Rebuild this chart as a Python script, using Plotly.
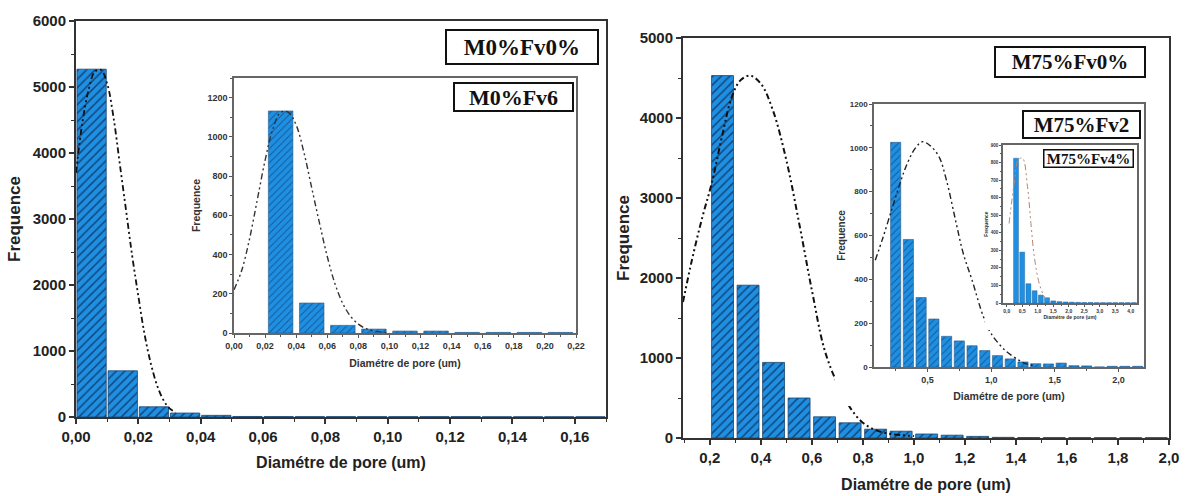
import plotly.graph_objects as go

W, H = 1189, 496

# ---------------- data ----------------
# Left main panel: M0%Fv0%
left_bin_centers = [0.005, 0.015, 0.025, 0.035, 0.045, 0.055, 0.065, 0.075, 0.085, 0.095,
                    0.105, 0.115, 0.125, 0.135, 0.145, 0.155, 0.165]
left_counts = [5270, 700, 155, 60, 25, 8, 6, 5, 5, 5, 5, 5, 5, 3, 3, 3, 3]
left_fit_x = [0, 0.002, 0.004, 0.006, 0.008, 0.010, 0.012, 0.014, 0.016, 0.018, 0.020,
              0.022, 0.024, 0.026, 0.028, 0.030, 0.032]
left_fit_y = [3700, 4450, 4950, 5230, 5260, 5050, 4550, 3850, 3150, 2450, 1830,
              1250, 810, 480, 260, 130, 70]

# Left inset: M0%Fv6
in1_bin_centers = [0.03, 0.05, 0.07, 0.09, 0.11, 0.13, 0.15, 0.17, 0.19, 0.21]
in1_counts = [1132, 153, 39, 20, 10, 10, 3, 3, 3, 3]
in1_fit_x = [0, 0.005, 0.010, 0.015, 0.020, 0.025, 0.030, 0.035, 0.040, 0.045, 0.050,
             0.055, 0.060, 0.065, 0.070, 0.075, 0.080, 0.085, 0.090, 0.095, 0.100]
in1_fit_y = [220, 320, 480, 680, 880, 1040, 1125, 1125, 1060, 920, 740,
             560, 390, 250, 150, 85, 45, 22, 10, 5, 2]

# Right main panel: M75%Fv0%
right_bin_centers = [0.25, 0.35, 0.45, 0.55, 0.65, 0.75, 0.85, 0.95, 1.05, 1.15,
                     1.25, 1.35, 1.45, 1.55, 1.65, 1.75, 1.85, 1.95]
right_counts = [4530, 1910, 945, 500, 265, 190, 110, 85, 50, 35, 20, 8, 6, 5, 5, 4, 4, 4]
right_fit_x = [0.095, 0.13, 0.17, 0.208, 0.25, 0.286, 0.32, 0.357, 0.40, 0.447, 0.50,
               0.553, 0.60, 0.65, 0.70, 0.75, 0.80, 0.85, 0.90, 0.95, 1.0]
right_fit_y = [1700, 2225, 2750, 3190, 3800, 4260, 4470, 4530, 4430, 4100, 3475,
               2640, 1850, 1100, 680, 380, 190, 100, 55, 35, 25]

# Right inset: M75%Fv2
in2_bin_centers = [0.25, 0.35, 0.45, 0.55, 0.65, 0.75, 0.85, 0.95, 1.05, 1.15,
                   1.25, 1.35, 1.45, 1.55, 1.65, 1.75, 1.85, 1.95, 2.05, 2.15]
in2_counts = [1025, 582, 317, 219, 140, 119, 97, 75, 52, 37,
              23, 15, 14, 18, 6, 5, 0, 3, 3, 3]
in2_fit_x = [0.09, 0.15, 0.226, 0.28, 0.33, 0.40, 0.46, 0.52, 0.59, 0.65, 0.72,
             0.78, 0.85, 0.94, 1.0, 1.11, 1.22, 1.27, 1.35]
in2_fit_y = [487, 590, 731, 830, 913, 995, 1028, 1010, 960, 850, 670,
             520, 396, 228, 152, 76, 30, 15, 5]

# Small inset: M75%Fv4%
in3_bin_centers = [0.3, 0.5, 0.7, 0.9, 1.1, 1.3, 1.5, 1.7, 1.9, 2.1,
                   2.3, 2.5, 2.7, 2.9, 3.1, 3.3, 3.5, 3.7, 3.9, 4.1]
in3_counts = [825, 290, 110, 70, 45, 30, 12, 8, 6, 5, 4, 3, 3, 2, 2, 2, 2, 2, 2, 2]
in3_fit_x = [0.076, 0.24, 0.37, 0.51, 0.67, 0.78, 0.89, 1.05, 1.22, 1.33]
in3_fit_y = [453, 682, 815, 825, 663, 453, 263, 110, 34, 11]

labels = ["M0%Fv0%", "M0%Fv6", "M75%Fv0%", "M75%Fv2", "M75%Fv4%"]
x_title = "Diamétre de pore (um)"
y_title = "Frequence"

# ---------------- styling helpers ----------------
SANS = "Liberation Sans, Arial, sans-serif"
SERIF = "Liberation Serif, Times New Roman, serif"
BAR_COLOR = "#1F8FE2"
HATCH = dict(shape="/", fgcolor="#0d3868", fgopacity=0.85, size=6, solidity=0.25)
HATCH_IN = dict(shape="/", fgcolor="#0d3868", fgopacity=0.6, size=5, solidity=0.2)
DASH = "6px,3px,2px,3px,2px,3px"


def xd(a, b):
    return [a / W, b / W]


def yd(top, bottom):
    return [1 - bottom / H, 1 - top / H]


fig = go.Figure()


def add_bars(x, y, width, ax, lw=0.8, lc="#1b4470", pattern=HATCH):
    fig.add_trace(go.Bar(
        x=x, y=y, width=width, xaxis="x" + ax, yaxis="y" + ax,
        marker=dict(color=BAR_COLOR, pattern=pattern, line=dict(color=lc, width=lw)),
        showlegend=False, hoverinfo="skip"))


def add_curve(x, y, ax, color="#111111", width=1.8):
    fig.add_trace(go.Scatter(
        x=x, y=y, mode="lines", xaxis="x" + ax, yaxis="y" + ax,
        line=dict(color=color, width=width, dash=DASH, shape="spline"),
        showlegend=False, hoverinfo="skip"))


def add_dummy(ax):
    fig.add_trace(go.Scatter(x=[0], y=[0], mode="markers", marker=dict(opacity=0),
                             xaxis="x" + ax, yaxis="y" + ax, showlegend=False,
                             hoverinfo="skip"))


# subplot order matters: later ones are drawn on top of earlier ones
add_bars(left_bin_centers, left_counts, 0.0094, "")
add_curve(left_fit_x, left_fit_y, "")
add_dummy("2")
add_bars(in1_bin_centers, in1_counts, 0.0158, "3", lw=0.6, lc="#2a5a8a", pattern=HATCH_IN)
add_curve(in1_fit_x, in1_fit_y, "3", color="#333333", width=1.4)
add_bars(right_bin_centers, right_counts, 0.086, "4")
add_curve(right_fit_x, right_fit_y, "4", width=2.0)
add_dummy("5")
add_bars(in2_bin_centers, in2_counts, 0.08, "6", lw=0.6, lc="#2a5a8a", pattern=HATCH_IN)
add_curve(in2_fit_x, in2_fit_y, "6", color="#222222", width=1.4)
add_dummy("7")
add_bars(in3_bin_centers, in3_counts, 0.16, "8", lw=0.4, lc="#2a5a8a",
         pattern=dict(shape="", fgcolor="#0d3868"))
add_curve(in3_fit_x, in3_fit_y, "8", color="#b08878", width=1.0)


def main_axis(domain, rng, dtick, minor_dtick, fmt, tick0=0, title=None, standoff=8,
              anchor=None, tfs=15, titlesize=17):
    d = dict(domain=domain, range=rng, dtick=dtick, tick0=tick0, tickformat=fmt,
             ticks="outside", ticklen=5, tickwidth=1.5, tickcolor="#333",
             showline=True, linewidth=2, linecolor="#333", mirror=True,
             showgrid=False, zeroline=False, automargin=False,
             minor=dict(ticks="outside", ticklen=3, tickwidth=1, tickcolor="#333",
                        dtick=minor_dtick, showgrid=False),
             tickfont=dict(family=SANS, size=tfs, color="#222", weight="bold"))
    if title:
        d["title"] = dict(text=title, standoff=standoff,
                          font=dict(family=SANS, size=titlesize, color="#222", weight="bold"))
    if anchor:
        d["anchor"] = anchor
    return d


def inset_axis(domain, rng, dtick, minor_dtick, fmt, tick0=0, title=None, standoff=4,
               anchor=None, tfs=9, titlesize=10, ticklen=3):
    d = dict(domain=domain, range=rng, dtick=dtick, tick0=tick0, tickformat=fmt,
             ticks="outside", ticklen=ticklen, tickwidth=1, tickcolor="#555",
             showline=True, linewidth=1.5, linecolor="#666", mirror=True,
             showgrid=False, zeroline=False, automargin=False,
             minor=dict(ticks="outside", ticklen=max(1, ticklen - 1), tickwidth=0.8,
                        tickcolor="#555", dtick=minor_dtick, showgrid=False),
             tickfont=dict(family=SANS, size=tfs, color="#333", weight="bold"))
    if title:
        d["title"] = dict(text=title, standoff=standoff,
                          font=dict(family=SANS, size=titlesize, color="#333", weight="bold"))
    if anchor:
        d["anchor"] = anchor
    return d


def cover_axis(domain, anchor):
    return dict(domain=domain, visible=False, range=[0, 1], anchor=anchor,
                fixedrange=True, automargin=False)


layout = dict(
    width=W, height=H, margin=dict(l=0, r=0, t=0, b=0, autoexpand=False),
    paper_bgcolor="white", plot_bgcolor="white", separators=",.",
    barmode="overlay", showlegend=False,
)

layout["xaxis"] = main_axis(xd(76, 606), [0, 0.17], 0.02, 0.01, ".2f", title=x_title,
                            standoff=13, anchor="y", titlesize=16)
layout["yaxis"] = main_axis(yd(21, 417), [0, 6000], 1000, 500, "d", title=y_title,
                            standoff=8, anchor="x")
layout["xaxis2"] = cover_axis(xd(183, 592), "y2")
layout["yaxis2"] = cover_axis(yd(70, 373), "x2")
layout["xaxis3"] = inset_axis(xd(234, 576), [0, 0.22], 0.02, 0.01, ".2f", title=x_title,
                              standoff=10, anchor="y3", tfs=9, titlesize=10.5)
layout["yaxis3"] = inset_axis(yd(78, 333), [0, 1300], 200, 100, "d", title=y_title,
                              standoff=5, anchor="x3", tfs=9, titlesize=10.5)
layout["xaxis4"] = main_axis(xd(683, 1169), [0.095, 2.0], 0.2, 0.1, ".1f", tick0=0.2,
                             title=x_title, standoff=14, anchor="y4", titlesize=16)
layout["yaxis4"] = main_axis(yd(38, 438), [0, 5000], 1000, 500, "d", title=y_title,
                             standoff=6, anchor="x4")
layout["xaxis5"] = cover_axis(xd(835, 1152), "y5")
layout["yaxis5"] = cover_axis(yd(92, 406), "x5")
layout["xaxis6"] = inset_axis(xd(874, 1144), [0.08, 2.2], 0.5, 0.25, ".1f", tick0=0,
                              title=x_title, standoff=9, anchor="y6", tfs=9, titlesize=10.5)
layout["yaxis6"] = inset_axis(yd(104, 367), [0, 1200], 200, 100, "d", title=y_title,
                              standoff=2, anchor="x6", tfs=8, titlesize=10)
layout["xaxis7"] = cover_axis(xd(985, 1141), "y7")
layout["yaxis7"] = cover_axis(yd(140, 330), "x7")
layout["xaxis8"] = inset_axis(xd(1003, 1137), [-0.12, 4.2], 0.5, 0.25, ".1f", tick0=0,
                              title=x_title, standoff=3, anchor="y8", tfs=5, titlesize=5,
                              ticklen=2)
layout["yaxis8"] = inset_axis(yd(145, 303), [0, 900], 100, 50, "d", title=y_title,
                              standoff=2, anchor="x8", tfs=4.5, titlesize=5, ticklen=2)

fig.update_layout(**layout)


def label_box(text, cx, cy, w, h, size, bw=2):
    fig.add_annotation(
        text=text, xref="paper", yref="paper", x=cx / W, y=1 - cy / H,
        xanchor="center", yanchor="middle", showarrow=False,
        width=w, height=h, align="center", valign="middle",
        bgcolor="white", bordercolor="#111", borderwidth=bw, borderpad=0,
        font=dict(family=SERIF, size=size, color="#111", weight="bold"))


label_box(labels[0], 522, 46.5, 150, 32, 23)
label_box(labels[1], 513, 96.5, 117, 26, 22)
label_box(labels[2], 1070, 61.5, 148, 28, 21)
label_box(labels[3], 1081, 124, 115, 25, 21)
label_box(labels[4], 1088, 158, 88, 16, 15, bw=1.5)

fig.write_html(
    "out.html",
    config={"displayModeBar": False},
    post_script="document.body.style.margin='0';document.body.style.padding='0';"
                "document.body.style.overflow='hidden';",
)
